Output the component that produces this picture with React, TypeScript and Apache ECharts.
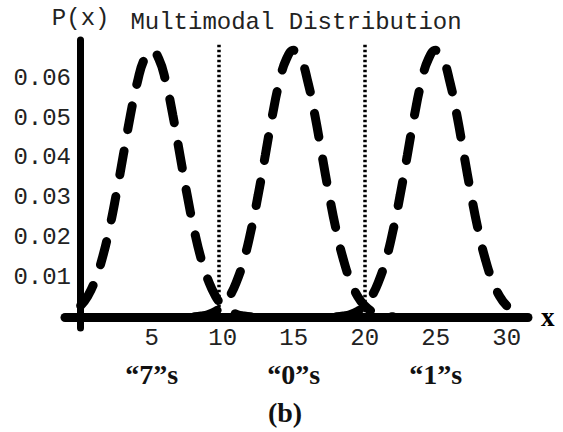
import React, { useEffect, useRef } from "react";
import * as echarts from "echarts";

// Hump around "7"s
const x7 = [0, 0.5, 1, 1.5, 2, 2.5, 3, 3.5, 4, 4.5, 5, 5.5, 6, 6.5, 7, 7.5, 8, 8.5, 9, 9.5, 10, 10.5, 11, 11.5, 12];
const p7 = [0.0029, 0.0053, 0.0091, 0.0145, 0.0218, 0.0307, 0.0406, 0.0506, 0.0591, 0.0649, 0.067, 0.0649, 0.0591, 0.0506, 0.0406, 0.0307, 0.0218, 0.0145, 0.0091, 0.0053, 0.0029, 0.0015, 0.0007, 0.0003, 0.0001];
// Hump around "0"s
const x0 = [8, 8.5, 9, 9.5, 10, 10.5, 11, 11.5, 12, 12.5, 13, 13.5, 14, 14.5, 15, 15.5, 16, 16.5, 17, 17.5, 18, 18.5, 19, 19.5, 20, 20.5, 21, 21.5, 22];
const p0 = [0.0001, 0.0003, 0.0007, 0.0015, 0.0029, 0.0053, 0.0091, 0.0145, 0.0218, 0.0307, 0.0406, 0.0506, 0.0591, 0.0649, 0.067, 0.0649, 0.0591, 0.0506, 0.0406, 0.0307, 0.0218, 0.0145, 0.0091, 0.0053, 0.0029, 0.0015, 0.0007, 0.0003, 0.0001];
// Hump around "1"s
const x1 = [18, 18.5, 19, 19.5, 20, 20.5, 21, 21.5, 22, 22.5, 23, 23.5, 24, 24.5, 25, 25.5, 26, 26.5, 27, 27.5, 28, 28.5, 29, 29.5, 30];
const p1 = [0.0001, 0.0003, 0.0007, 0.0015, 0.0029, 0.0053, 0.0091, 0.0145, 0.0218, 0.0307, 0.0406, 0.0506, 0.0591, 0.0649, 0.067, 0.0649, 0.0591, 0.0506, 0.0406, 0.0307, 0.0218, 0.0145, 0.0091, 0.0053, 0.0029];

const xTicks = [5, 10, 15, 20, 25, 30];
const yTicks = [0.01, 0.02, 0.03, 0.04, 0.05, 0.06];
const digitNames = ["\u201C7\u201Ds", "\u201C0\u201Ds", "\u201C1\u201Ds"];
const digitCenters = [5, 15, 25];
const dividers = [9.7, 20];
const dividerTop = 0.0688;

const MONO = "'Liberation Mono', 'DejaVu Sans Mono', monospace";
const SERIF = "'Liberation Serif', 'DejaVu Serif', serif";

const pair = (xs: number[], ys: number[]) => xs.map((x, i) => [x, ys[i]]);

export default function App() {
  const ref = useRef<HTMLDivElement>(null);
  useEffect(() => {
    document.body.style.margin = "0";
    const chart = echarts.init(ref.current!, null, { renderer: "svg" });
    const curveStyle = { color: "#000", width: 9, type: [24, 22], cap: "round" };
    const option: any = {
      animation: false,
      backgroundColor: "#fff",
      grid: { left: 65, right: 35, top: 40, bottom: 104, containLabel: false, outerBoundsMode: "none" },
      xAxis: [
        {
          type: "value",
          min: -1.1,
          max: 31.5,
          name: "x",
          nameLocation: "end",
          nameGap: 13,
          nameTextStyle: { fontFamily: SERIF, fontWeight: "bold", fontSize: 27, color: "#000" },
          axisLine: { show: true, onZero: true, lineStyle: { color: "#000", width: 9 } },
          axisTick: { show: false },
          splitLine: { show: false },
          axisLabel: {
            customValues: xTicks,
            margin: -2,
            fontFamily: MONO,
            fontSize: 24,
            color: "#222",
            formatter: (v: number) => String(v),
          },
        },
        {
          type: "value",
          min: -1.1,
          max: 31.5,
          position: "bottom",
          axisLine: { show: false, onZero: false },
          axisTick: { show: false },
          splitLine: { show: false },
          axisLabel: {
            customValues: digitCenters,
            margin: 32,
            fontFamily: SERIF,
            fontWeight: "bold",
            fontSize: 28,
            color: "#111",
            formatter: (v: number) => digitNames[digitCenters.indexOf(v)] ?? "",
          },
        },
      ],
      yAxis: {
        type: "value",
        min: -0.0027,
        max: 0.0696,
        name: "P(x)",
        nameLocation: "end",
        nameGap: 10,
        nameTextStyle: { fontFamily: MONO, fontSize: 24, color: "#222" },
        axisLine: { show: true, onZero: true, lineStyle: { color: "#000", width: 7, cap: "round" } },
        axisTick: { show: false },
        splitLine: { show: false },
        axisLabel: {
          customValues: yTicks,
          margin: -6,
          fontFamily: MONO,
          fontSize: 24,
          color: "#222",
          formatter: (v: number) => v.toFixed(2),
        },
      },
      graphic: [
        {
          type: "text",
          x: 296,
          y: 22,
          style: {
            text: "Multimodal Distribution",
            font: `24px ${MONO}`,
            fill: "#222",
            textAlign: "center",
            textVerticalAlign: "middle",
          },
        },
        {
          type: "text",
          x: 285,
          y: 412,
          style: {
            text: "(b)",
            font: `bold 28px ${SERIF}`,
            fill: "#111",
            textAlign: "center",
            textVerticalAlign: "middle",
          },
        },
      ],
      series: [
        {
          type: "line",
          data: pair(x7, p7),
          smooth: true,
          symbol: "none",
          lineStyle: curveStyle,
          markLine: {
            silent: true,
            symbol: "none",
            label: { show: false },
            lineStyle: { color: "#000", width: 3.5, type: [2.5, 2.5] },
            data: dividers.map((d) => [{ coord: [d, 0] }, { coord: [d, dividerTop] }]),
          },
        },
        { type: "line", data: pair(x0, p0), smooth: true, symbol: "none", lineStyle: curveStyle },
        { type: "line", data: pair(x1, p1), smooth: true, symbol: "none", lineStyle: curveStyle },
      ],
    };
    chart.setOption(option);
    return () => chart.dispose();
  }, []);
  return <div ref={ref} style={{ position: "fixed", left: 0, top: 0, width: 563, height: 432 }} />;
}
